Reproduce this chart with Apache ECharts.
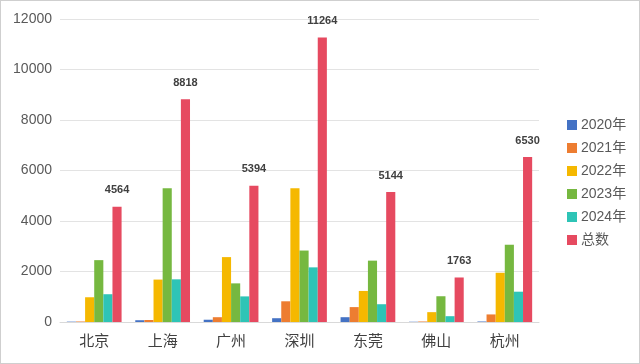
<!DOCTYPE html>
<html><head><meta charset="utf-8">
<script src="https://cdn.jsdelivr.net/npm/echarts@6/dist/echarts.min.js"></script>
<style>html,body{margin:0;padding:0;background:#fff}#c{width:640px;height:364px;box-sizing:border-box;border:1px solid #cfcfcf}</style>
</head><body><div id="c"></div>
<script>
const categories = ['北京','上海','广州','深圳','东莞','佛山','杭州'];
const seriesNames = ['2020年','2021年','2022年','2023年','2024年','总数'];
const y2020 = [14, 70, 90, 150, 190, 10, 20];
const y2021 = [20, 80, 190, 820, 590, 20, 300];
const y2022 = [980, 1680, 2570, 5300, 1230, 390, 1950];
const y2023 = [2450, 5300, 1530, 2830, 2430, 1020, 3060];
const y2024 = [1100, 1690, 1014, 2164, 704, 230, 1200];
const total = [4564, 8818, 5394, 11264, 5144, 1763, 6530];
const colors = ['#4472C4','#ED7D31','#F5B800','#76B840','#2EC4B6','#E64A60'];
const font = 'Liberation Sans, "Noto Sans CJK SC", sans-serif';
const allData = [y2020, y2021, y2022, y2023, y2024, total];
const chart = echarts.init(document.getElementById('c'));
chart.setOption({
  animation:false,
  color: colors,
  textStyle:{fontFamily:font},
  grid:{left:59, right:100, top:18, bottom:41},
  legend:{orient:'vertical', left:561, top:112, itemWidth:10, itemHeight:10, itemGap:9, icon:'rect',
    textStyle:{fontSize:14, color:'#595959', fontFamily:font, padding:[0,0,0,-1]}},
  xAxis:{type:'category', data:categories,
    axisLine:{lineStyle:{color:'#d9d9d9'}}, axisTick:{show:false},
    axisLabel:{fontSize:15, color:'#404040', margin:12, fontFamily:font}},
  yAxis:{type:'value', min:0, max:12000, interval:2000,
    axisLine:{show:false}, axisTick:{show:false},
    splitLine:{lineStyle:{color:'#e3e3e3'}},
    axisLabel:{fontSize:14, color:'#595959', margin:8, fontFamily:font, formatter: v => String(v)}},
  series: seriesNames.map((n,i)=>({
    name:n, type:'bar', data:allData[i], barGap:'0%', barCategoryGap:'20%',
    label: i===5 ? {show:true, position:'top', distance:11, fontSize:11, fontWeight:'bold', color:'#404040', fontFamily:font} : {show:false}
  }))
});
</script></body></html>
